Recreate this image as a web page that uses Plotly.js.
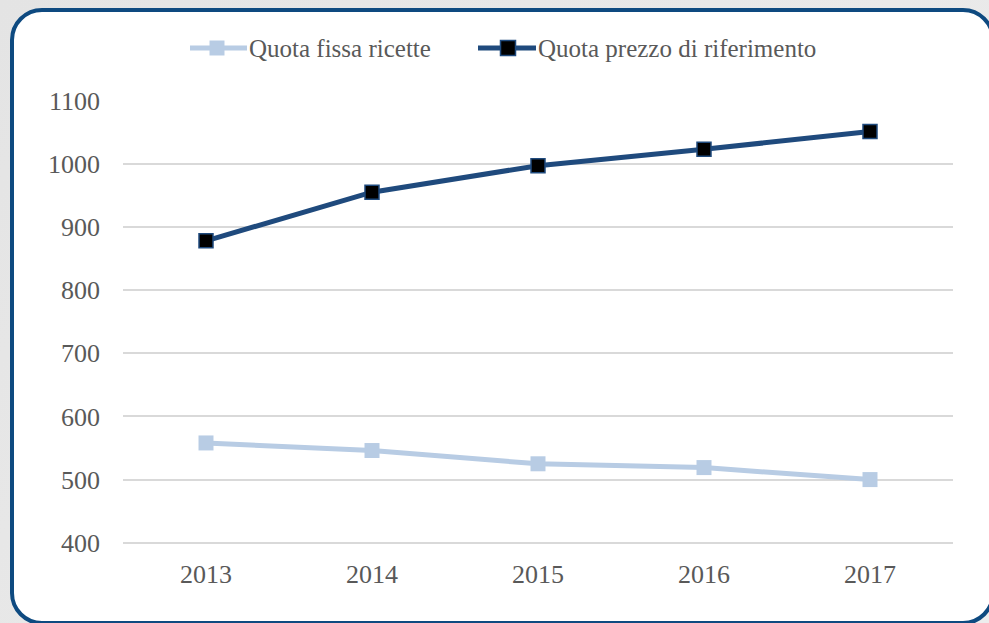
<!DOCTYPE html>
<html>
<head>
<meta charset="utf-8">
<script src="https://cdn.plot.ly/plotly-3.0.1.min.js"></script>
<style>
  html, body { margin: 0; padding: 0; width: 989px; height: 623px; overflow: hidden;
    background: linear-gradient(135deg, #e4e4e4 0%, #ededed 100%); }
  #frame { position: absolute; left: 10px; top: 8px; width: 977px; height: 609px;
    border: 4px solid #0e4a80; border-radius: 32px; background: #ffffff; }
  #chart { position: absolute; left: 0; top: 0; width: 989px; height: 623px; }
</style>
</head>
<body>
<div id="frame"></div>
<div id="chart"></div>
<script>
const years = ['2013', '2014', '2015', '2016', '2017'];
const quotaFissa = [558, 546, 525, 519, 500];
const quotaPrezzo = [878, 955, 997, 1023, 1051];
const yTicks = [400, 500, 600, 700, 800, 900, 1000, 1100];
const seriesNames = ['Quota fissa ricette', 'Quota prezzo di riferimento'];

const lightBlue = '#b8cce4';
const darkBlue = '#1f4a7d';
const tickFont = { family: 'Liberation Serif, Times New Roman, serif', size: 26, color: '#595959' };
const legFont = { family: 'Liberation Serif, Times New Roman, serif', size: 25, color: '#595959' };

// plot area in pixels
const L = 123, T = 100, W = 830, H = 444;
const px = v => (v - L) / W;
const py = v => (T + H - v) / H;

const traces = [
  {
    x: years, y: quotaFissa, name: seriesNames[0], type: 'scatter', mode: 'lines+markers',
    line: { color: lightBlue, width: 5 },
    marker: { symbol: 'square', size: 15, color: lightBlue, line: { width: 0 } }
  },
  {
    x: years, y: quotaPrezzo, name: seriesNames[1], type: 'scatter', mode: 'lines+markers',
    line: { color: darkBlue, width: 5 },
    marker: { symbol: 'square', size: 14, color: '#000000', line: { color: darkBlue, width: 1.5 } }
  }
];

// custom legend (longer symbol lines as in the reference)
const legY = 48;
function legendSymbol(x0, x1, cx, lineColor, fill, border) {
  const h = 7.5;
  return [
    { type: 'line', xref: 'paper', yref: 'paper', x0: px(x0), x1: px(x1), y0: py(legY), y1: py(legY),
      line: { color: lineColor, width: 5 } },
    { type: 'rect', xref: 'paper', yref: 'paper', x0: px(cx - h), x1: px(cx + h), y0: py(legY + h), y1: py(legY - h),
      fillcolor: fill, line: { color: border, width: border === fill ? 0 : 1.5 } }
  ];
}
const shapes = [].concat(
  legendSymbol(190, 247, 217, lightBlue, lightBlue, lightBlue),
  legendSymbol(478, 536, 508, darkBlue, '#000000', darkBlue)
);
const annotations = [
  { text: seriesNames[0], xref: 'paper', yref: 'paper', x: px(247), y: py(legY), xanchor: 'left', yanchor: 'middle',
    showarrow: false, font: legFont },
  { text: seriesNames[1], xref: 'paper', yref: 'paper', x: px(536), y: py(legY), xanchor: 'left', yanchor: 'middle',
    showarrow: false, font: legFont }
];

const layout = {
  width: 989, height: 623,
  paper_bgcolor: 'rgba(0,0,0,0)', plot_bgcolor: 'rgba(0,0,0,0)',
  margin: { l: L, r: 989 - L - W, t: T, b: 623 - T - H },
  font: tickFont,
  showlegend: false,
  shapes: shapes,
  annotations: annotations,
  xaxis: { type: 'category', range: [-0.5, 4.5], showgrid: false, zeroline: false, showline: false,
    ticks: '', tickfont: tickFont, ticklabelstandoff: 12 },
  yaxis: { range: [398, 1101], tickvals: yTicks, showgrid: true, gridcolor: '#d9d9d9', gridwidth: 2,
    zeroline: false, showline: false, ticks: '', tickfont: tickFont, ticklabelstandoff: 22 }
};

Plotly.newPlot('chart', traces, layout, { staticPlot: true, displayModeBar: false });
</script>
</body>
</html>
